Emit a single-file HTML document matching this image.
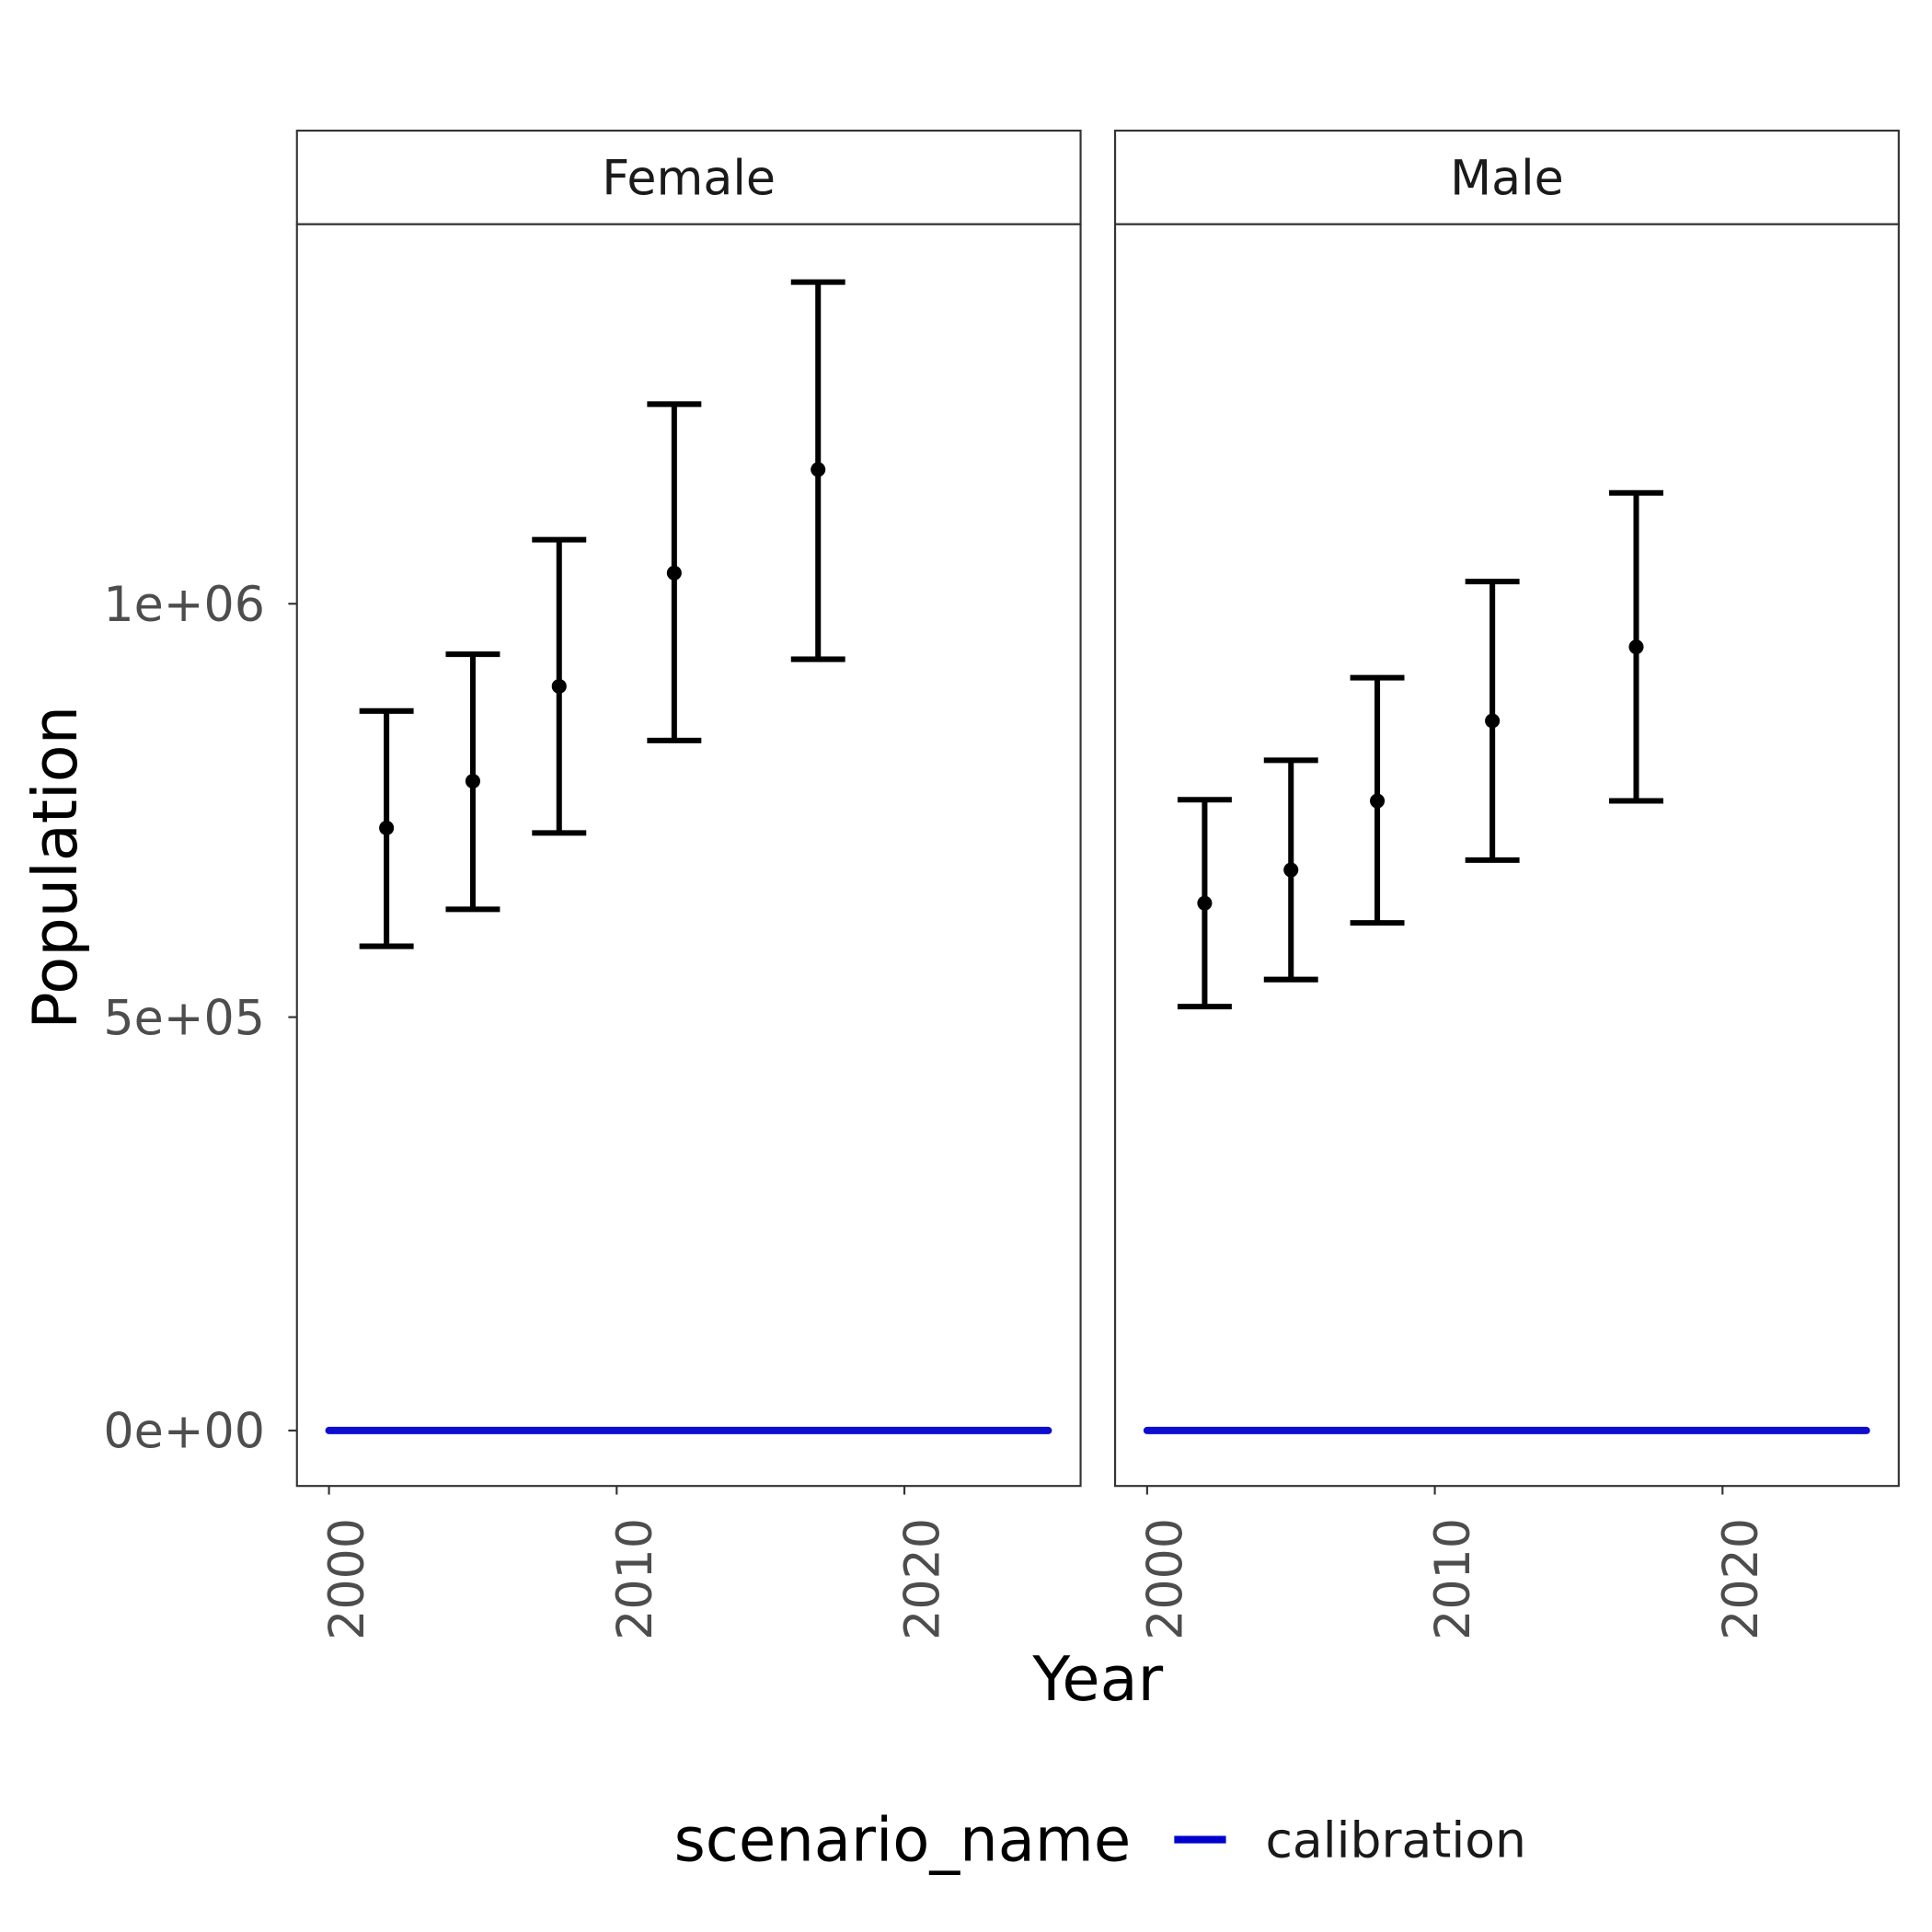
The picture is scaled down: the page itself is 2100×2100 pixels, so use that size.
<!DOCTYPE html>
<html><head><meta charset="utf-8"><style>html,body{margin:0;padding:0;background:#fff}svg{display:block}text{font-family:"DejaVu Sans","Liberation Sans",sans-serif}</style></head>
<body>
<svg id="chart" width="2100" height="2100" viewBox="0 0 1568 1568" xmlns="http://www.w3.org/2000/svg">
<rect width="1568" height="1568" fill="#fff"/>
<g id="g"></g>
</svg>
<script>
const panels = ["Female","Male"];
const years = [2002,2005,2008,2012,2017];
const femaleMid = [728800,785400,900150,1037250,1162450];
const femaleHigh = [870300,938900,1077500,1241400,1389000];
const femaleLow = [585700,630400,722800,834600,932900];
const maleMid = [637900,678100,761550,858400,947800];
const maleHigh = [763000,810700,910600,1026800,1134100];
const maleLow = [512700,545500,614000,690000,761550];
const calibYears = [2000,2025];
const calibValues = [0,0];
const yTicks = [0,500000,1000000];
const yTickLabels = ["0e+00","5e+05","1e+06"];
const xTicks = [2000,2010,2020];

const NS="http://www.w3.org/2000/svg";
const g=document.getElementById('g');
function el(tag,attrs,parent,txt){const e=document.createElementNS(NS,tag);for(const k in attrs)e.setAttribute(k,attrs[k]);if(txt!==undefined)e.textContent=txt;(parent||g).appendChild(e);return e;}
const panelX=[241,905], panelW=636, panelTop=182, panelBottom=1206;
function yS(v){return 1161-v/500000*335.5;}
function xS(p,yr){return panelX[p]+26+(yr-2000)*23.35;}
const mids=[femaleMid,maleMid], highs=[femaleHigh,maleHigh], lows=[femaleLow,maleLow];

panels.forEach((name,p)=>{
  const x0=panelX[p];
  const strip=el('rect',{x:x0,y:106,width:panelW,height:76,fill:'#fff',stroke:'#333','stroke-width':1.6});
  
  
  const st=el('text',{x:x0+panelW/2,y:158,'text-anchor':'middle','font-size':39,fill:'#1a1a1a'},null,name);
  
  
  const pr=el('rect',{x:x0,y:panelTop,width:panelW,height:panelBottom-panelTop,fill:'#fff',stroke:'#333','stroke-width':1.6});
  
  
  const cl=el('line',{x1:xS(p,calibYears[0]),y1:yS(calibValues[0]),x2:xS(p,calibYears[1]),y2:yS(calibValues[1]),stroke:'#0000cd','stroke-width':6,'stroke-linecap':'round','stroke-opacity':0.95});
  
  
  years.forEach((yr,i)=>{
    const cx=xS(p,yr);
    const eb=el('g',{});
    
    
    el('line',{x1:cx,y1:yS(highs[p][i]),x2:cx,y2:yS(lows[p][i]),stroke:'#000','stroke-width':4.5},eb);
    el('line',{x1:cx-22,y1:yS(highs[p][i]),x2:cx+22,y2:yS(highs[p][i]),stroke:'#000','stroke-width':4.5},eb);
    el('line',{x1:cx-22,y1:yS(lows[p][i]),x2:cx+22,y2:yS(lows[p][i]),stroke:'#000','stroke-width':4.5},eb);
    const pt=el('circle',{cx:cx,cy:yS(mids[p][i]),r:6,fill:'#000'});
    
    
  });
  xTicks.forEach(t=>{
    const x=xS(p,t);
    el('line',{x1:x,y1:panelBottom,x2:x,y2:panelBottom+7,stroke:'#333','stroke-width':1.6});
    const tl=el('text',{x:0,y:0,'font-size':39,fill:'#4d4d4d','text-anchor':'end',transform:`translate(${x+28},1232) rotate(-90)`},null,String(t));
    
    
  });
});
yTicks.forEach((v,i)=>{
  el('line',{x1:234,y1:yS(v),x2:241,y2:yS(v),stroke:'#333','stroke-width':1.6});
  const tl=el('text',{x:215,y:yS(v)+14,'font-size':39,fill:'#4d4d4d','text-anchor':'end'},null,yTickLabels[i]);
  
  
});
const xt=el('text',{x:891,y:1380,'font-size':50,fill:'#000','text-anchor':'middle'},null,'Year');


const yt=el('text',{x:0,y:0,'font-size':50,fill:'#000','text-anchor':'middle',transform:'translate(62,704) rotate(-90)'},null,'Population');


const lg=el('g',{});


el('text',{x:547,y:1510,'font-size':49,fill:'#000'},lg,'scenario_name');
el('line',{x1:953,y1:1493,x2:995,y2:1493,stroke:'#0000cd','stroke-width':6},lg);
el('text',{x:1027,y:1507,'font-size':40,fill:'#1a1a1a'},lg,'calibration');
</script>
</body></html>
